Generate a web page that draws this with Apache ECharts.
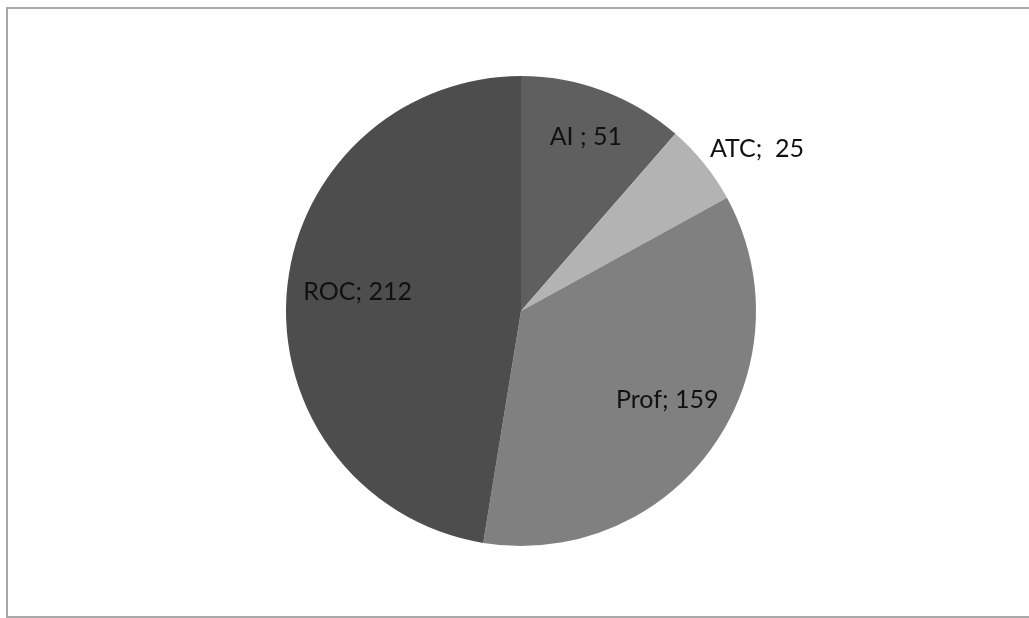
<html>
    <head>
        <meta charset="utf-8">
        <script src="https://cdn.jsdelivr.net/npm/echarts@6/dist/echarts.min.js"></script>
    </head>
    <body>
        <style>
            html, body {
                width: 100%;
                height: 100%;
                margin: 0;
                background: #fff;
                overflow: hidden;
            }
            #frame {
                position: absolute;
                left: 6px;
                top: 7px;
                width: 1100px;
                height: 607px;
                border: 2px solid #a8a8a8;
            }
            #main {
                position: absolute;
                left: 0;
                top: 0;
                width: 1029px;
                height: 618px;
            }
        </style>
        <div id="frame"></div>
        <div id="main"></div>
        <script>
            var names = ['AI', 'ATC', 'Prof', 'ROC'];
            var values = [51, 25, 159, 212];
            var colors = ['#5f5f5f', '#b3b3b3', '#808080', '#4d4d4d'];
            var labelTexts = ['AI ; 51', 'ATC;  25', 'Prof; 159', 'ROC; 212'];
            var outsideLabel = ['ATC'];
            // small nudges so labels land where excel's best fit put them
            var labelNudge = [[2, -6], [-10, -6], [0, -14], [15, -5]];

            var chart = echarts.init(document.getElementById('main'));

            var sliceData = names.map(function (n, i) {
                return {name: n, value: values[i], itemStyle: {color: colors[i]}};
            });

            // second, invisible pie only carries the labels so that
            // inside labels sit at ~3/4 of the radius like the original
            var labelData = names.map(function (n, i) {
                var outside = outsideLabel.indexOf(n) >= 0;
                return {
                    name: n,
                    value: values[i],
                    label: {
                        position: outside ? 'outside' : 'inside',
                        formatter: labelTexts[i],
                        align: outside ? 'left' : 'center',
                        offset: labelNudge[i]
                    },
                    labelLine: {show: false, length: 14, length2: 0}
                };
            });

            chart.setOption({
                animation: false,
                series: [
                    {
                        type: 'pie',
                        center: [521, 311],
                        radius: [0, 235],
                        startAngle: 90,
                        clockwise: true,
                        silent: true,
                        label: {show: false},
                        labelLine: {show: false},
                        itemStyle: {borderWidth: 0},
                        data: sliceData
                    },
                    {
                        type: 'pie',
                        center: [521, 311],
                        radius: [117, 235],
                        startAngle: 90,
                        clockwise: true,
                        silent: true,
                        itemStyle: {color: 'rgba(0,0,0,0)', borderWidth: 0},
                        label: {
                            show: true,
                            color: '#111',
                            fontFamily: 'Lato',
                            fontSize: 25
                        },
                        data: labelData
                    }
                ]
            });
        </script>
    </body>
</html>
